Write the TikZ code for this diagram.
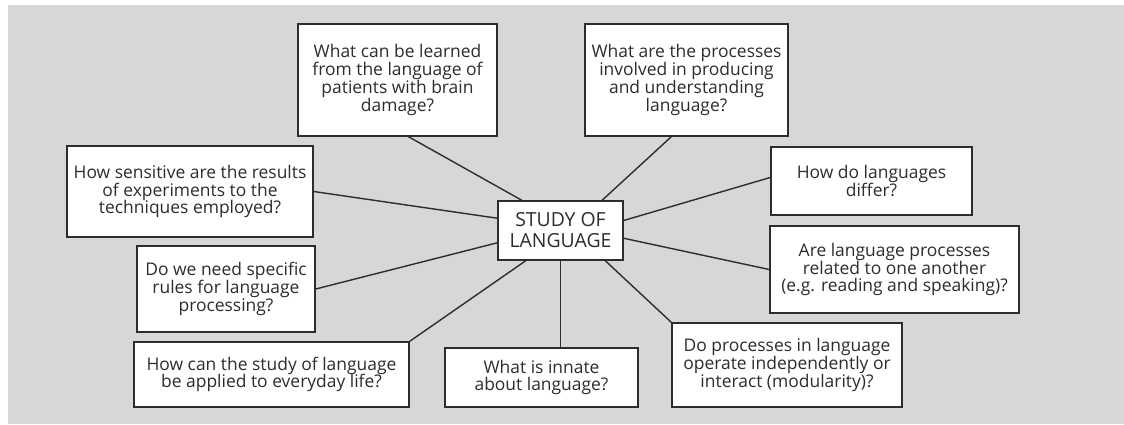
\documentclass[tikz,border=0pt]{standalone}
\usepackage{fontspec}
\setmainfont{Open Sans}
\usetikzlibrary{calc}

\definecolor{panel}{RGB}{215,215,215}
\definecolor{ink}{RGB}{45,45,45}
\setlength{\lineskiplimit}{-\maxdimen}

\begin{document}
\begin{tikzpicture}[x=0.025cm, y=-0.025cm,
		box/.style={draw=ink, line width=1pt, fill=white, text=ink, align=center, inner sep=0pt, font=\fontsize{12.4}{12.6}\selectfont},
		link/.style={draw=ink, line width=1pt}]
			\def\px{0.025cm};

			\useasboundingbox (0,0) rectangle (1124,424);
			\fill[panel] (8,5) rectangle (1124,424);

			\node[box, minimum width=125*\px, minimum height=59*\px, font=\fontsize{13.8}{15}\selectfont] (study) at (560.5,230.5) {STUDY OF\\LANGUAGE};

			\node[box, minimum width=199*\px, minimum height=112*\px] (learned) at (397.5,80) {What can be learned\\from the language of\\patients with brain\\damage?};
			\node[box, minimum width=203*\px, minimum height=112*\px] (processes) at (686.5,80) {What are the processes\\involved in producing\\and understanding\\language?};
			\node[box, minimum width=246*\px, minimum height=91*\px] (sensitive) at (190,191.5) {How sensitive are the results\\of experiments to the\\techniques employed?};
			\node[box, minimum width=201*\px, minimum height=68*\px] (differ) at (871.5,181) {How do languages\\differ?};
			\node[box, minimum width=249*\px, minimum height=87*\px] (related) at (894.5,269.5) {Are language processes\\related to one another\\(e.g. reading and speaking)?};
			\node[box, minimum width=178*\px, minimum height=86*\px] (rules) at (226,289) {Do we need specific\\rules for language\\processing?};
			\node[box, minimum width=230*\px, minimum height=84*\px] (modular) at (787,365) {Do processes in language\\operate independently or\\interact (modularity)?};
			\node[box, minimum width=193*\px, minimum height=59*\px] (innate) at (541.5,377.5) {What is innate\\about language?};
			\node[box, minimum width=275*\px, minimum height=65*\px] (everyday) at (271.5,374.5) {How can the study of language\\be applied to everyday life?};

			\draw[link] (learned.281.6) -- (study.142.5);
			\draw[link] (processes.255.5) -- (study.36.8);
			\draw[link] (sensitive.east) -- (study.169.6);
			\draw[link] (differ.178.3) -- (study.9.5);
			\draw[link] (related.west) -- (study.-7.7);
			\draw[link] (rules.east) -- (study.191.3);
			\draw[link] (modular.north west) -- (study.-34.8);
			\draw[link] (study.south) -- (study.south |- innate.north);
			\draw[link] (everyday.north east) -- (study.221.4);
\end{tikzpicture}
\end{document}
